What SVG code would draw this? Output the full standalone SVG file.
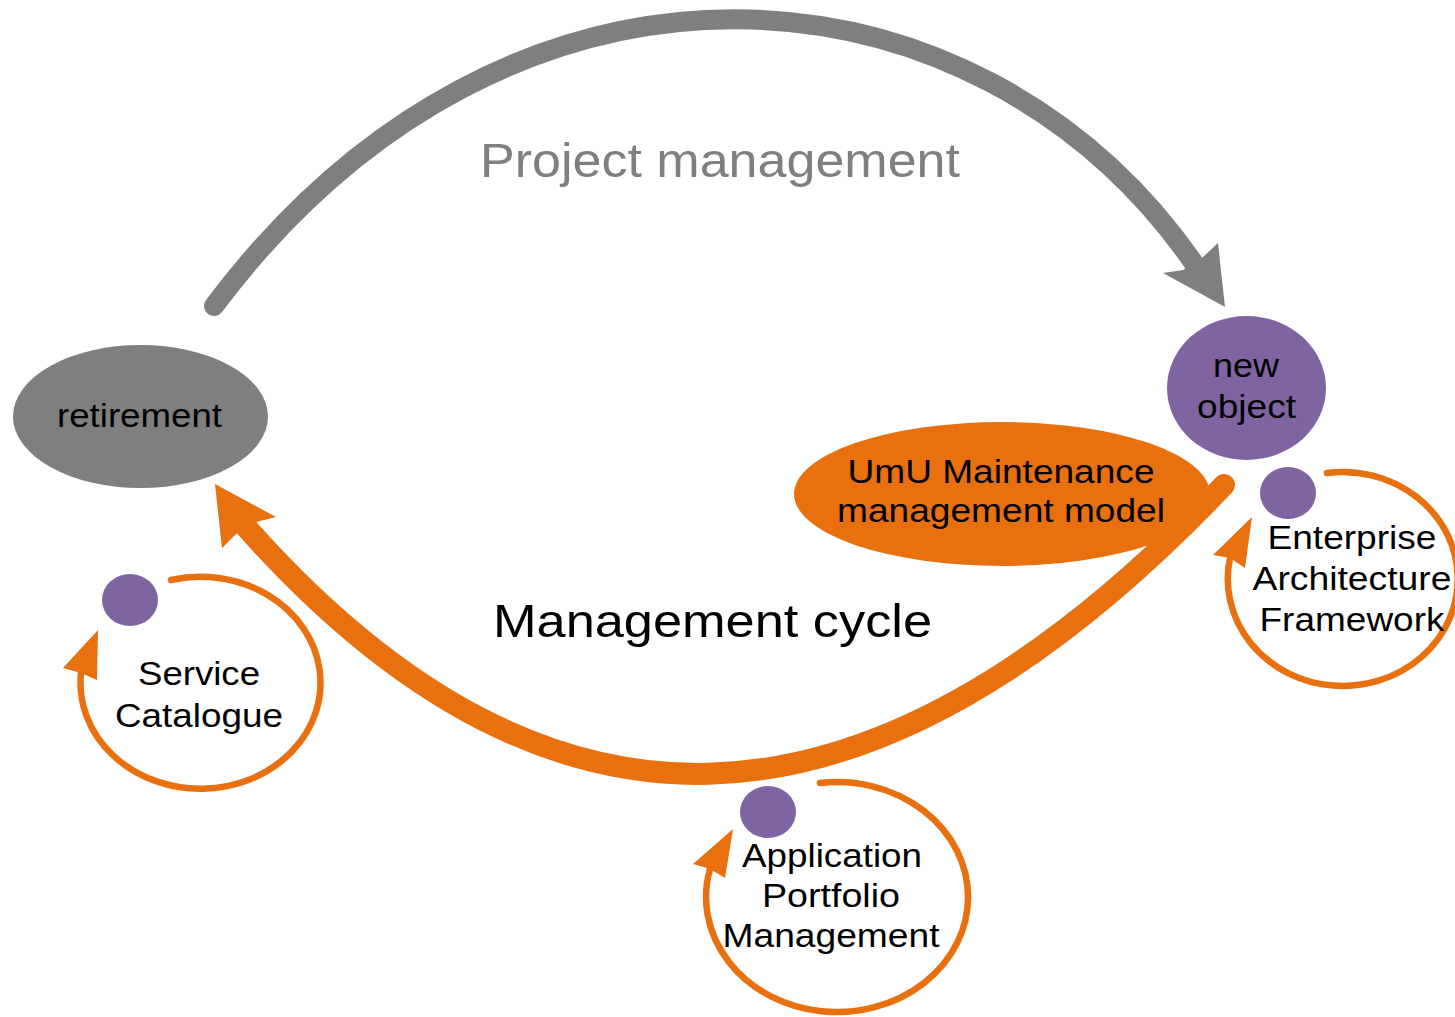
<svg xmlns="http://www.w3.org/2000/svg" width="1455" height="1017" viewBox="0 0 1455 1017">
<style>
.t{font-family:"Liberation Sans",Arial,sans-serif;font-size:34px;fill:#000;text-anchor:middle}
.big{font-family:"Liberation Sans",Arial,sans-serif;text-anchor:middle}
.grey{fill:#7f7f7f}
.orange{fill:#e9700f}
.purple{fill:#8064a2}
.arcG{fill:none;stroke:#7f7f7f;stroke-width:20;stroke-linecap:round}
.arcO{fill:none;stroke:#e9700f;stroke-width:22;stroke-linecap:round}
.loop{fill:none;stroke:#e9700f;stroke-width:6.5;stroke-linecap:round}
</style>
<rect width="1455" height="1017" fill="#fff"/>
<g id="connectors">
  <path class="arcG" d="M214,306 C511,-90 977,-48 1193,262"/>
  <polygon class="grey" points="1225,307 1163,273 1183,270 1203,257 1218,243"/>
  <path class="arcO" d="M1224,485 C860,868 540,858 246,527"/>
  <polygon class="orange" points="215,484 276,517 256,522 237,533 222,548"/>
  <path class="loop" d="M171,580 A120,106 0 1,1 81,673"/>
  <polygon class="orange" points="98,630 63,668 81,673 97,680"/>
  <path class="loop" d="M820,783 A131,115 0 1,1 710,869"/>
  <polygon class="orange" points="733,829 693,864 710,869 725,878"/>
  <path class="loop" d="M1327,473 A115,107 0 1,1 1230,558"/>
  <polygon class="orange" points="1252,517 1213,555 1230,558 1245,568"/>
</g>
<g id="project-management-label">
  <text class="big" x="720" y="177" font-size="48" fill="#7f7f7f" textLength="480" lengthAdjust="spacingAndGlyphs">Project management</text>
</g>
<g id="management-cycle-label">
  <text class="big" x="712.5" y="637" font-size="47" fill="#000" textLength="439" lengthAdjust="spacingAndGlyphs">Management cycle</text>
</g>
<g id="retirement">
  <ellipse class="grey" cx="140.5" cy="416.5" rx="127.5" ry="71.5"/>
  <text class="t" x="139.5" y="427" textLength="165" lengthAdjust="spacingAndGlyphs">retirement</text>
</g>
<g id="new-object">
  <ellipse class="purple" cx="1246.5" cy="388" rx="79.5" ry="72"/>
  <text class="t" x="1246" y="377" textLength="66" lengthAdjust="spacingAndGlyphs">new</text>
  <text class="t" x="1246.5" y="418" textLength="99" lengthAdjust="spacingAndGlyphs">object</text>
</g>
<g id="umu-model">
  <ellipse class="orange" cx="1002" cy="494" rx="208" ry="72"/>
  <text class="t" x="1001" y="483" textLength="307" lengthAdjust="spacingAndGlyphs">UmU Maintenance</text>
  <text class="t" x="1001" y="522" textLength="328" lengthAdjust="spacingAndGlyphs">management model</text>
</g>
<g id="service-catalogue">
  <ellipse class="purple" cx="130" cy="600" rx="28" ry="26"/>
  <text class="t" x="199" y="685" textLength="122" lengthAdjust="spacingAndGlyphs">Service</text>
  <text class="t" x="199" y="727" textLength="168" lengthAdjust="spacingAndGlyphs">Catalogue</text>
</g>
<g id="application-portfolio">
  <ellipse class="purple" cx="768" cy="812" rx="28" ry="26"/>
  <text class="t" x="832" y="867" textLength="180" lengthAdjust="spacingAndGlyphs">Application</text>
  <text class="t" x="831" y="907" textLength="138" lengthAdjust="spacingAndGlyphs">Portfolio</text>
  <text class="t" x="831" y="947" textLength="217" lengthAdjust="spacingAndGlyphs">Management</text>
</g>
<g id="enterprise-architecture">
  <ellipse class="purple" cx="1288" cy="493" rx="28" ry="26"/>
  <text class="t" x="1352" y="549" textLength="169" lengthAdjust="spacingAndGlyphs">Enterprise</text>
  <text class="t" x="1352" y="590" textLength="199" lengthAdjust="spacingAndGlyphs">Architecture</text>
  <text class="t" x="1352" y="631" textLength="185" lengthAdjust="spacingAndGlyphs">Framework</text>
</g>
</svg>
